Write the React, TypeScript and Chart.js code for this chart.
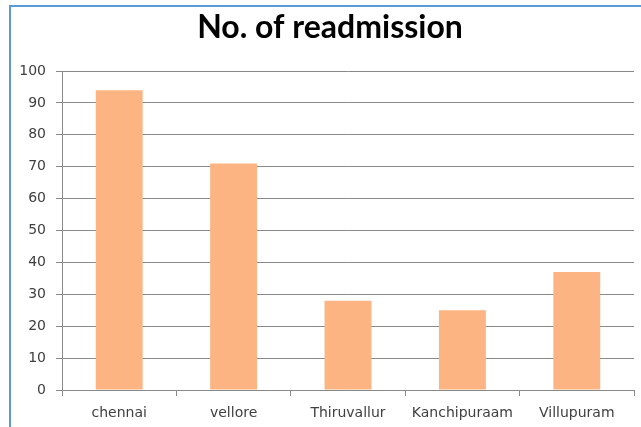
import React, { useEffect, useRef } from "react";
import { Chart, registerables } from "chart.js";

Chart.register(...registerables);

const titleText = "No. of readmission";
const categories = ["chennai", "vellore", "Thiruvallur", "Kanchipuraam", "Villupuram"];
const readmissions = [94, 71, 28, 25, 37];
const yMin = 0;
const yMax = 100;
const yStep = 10;

const framePlugin = {
  id: "frameAndTitle",
  beforeDraw(chart: any) {
    const ctx = chart.ctx;
    ctx.save();
    ctx.fillStyle = "#ffffff";
    ctx.fillRect(0, 0, chart.width, chart.height);
    ctx.strokeStyle = "#5B9BD5";
    ctx.lineWidth = 2;
    ctx.beginPath();
    ctx.moveTo(10, chart.height + 5);
    ctx.lineTo(10, 6);
    ctx.lineTo(chart.width + 5, 6);
    ctx.stroke();
    ctx.fillStyle = "#000000";
    ctx.font = "bold 32px Lato";
    ctx.textAlign = "center";
    ctx.textBaseline = "middle";
    ctx.fillText(titleText, 330, 28);
    ctx.restore();
  },
};

export default function App() {
  const ref = useRef<HTMLCanvasElement | null>(null);
  useEffect(() => {
    if (!ref.current) return;
    const chart = new Chart(ref.current, {
      type: "bar",
      data: {
        labels: categories,
        datasets: [
          {
            label: titleText,
            data: readmissions,
            backgroundColor: "#FCB482",
            borderWidth: 0,
            categoryPercentage: 1,
            barPercentage: 0.41,
          },
        ],
      },
      options: {
        animation: false,
        responsive: false,
        maintainAspectRatio: false,
        layout: { padding: { left: 0, right: 7, top: 71, bottom: 0 } },
        plugins: {
          legend: { display: false },
          tooltip: { enabled: false },
          title: { display: false },
        },
        scales: {
          x: {
            grid: {
              display: true,
              drawOnChartArea: false,
              drawTicks: true,
              tickLength: 6,
              color: "#898989",
              offset: true,
            },
            border: { display: true, color: "#898989", width: 1 },
            ticks: {
              color: "#404040",
              font: { family: "DejaVu Sans", size: 14 },
              padding: 9,
              maxRotation: 0,
              autoSkip: false,
            },
            afterFit(scale: any) {
              scale.height = 37;
            },
          },
          y: {
            min: yMin,
            max: yMax,
            grid: {
              color: "#898989",
              drawTicks: true,
              tickLength: 6,
            },
            border: { display: true, color: "#898989", width: 1 },
            ticks: {
              stepSize: yStep,
              color: "#404040",
              font: { family: "DejaVu Sans", size: 14 },
              padding: 10,
            },
            afterFit(scale: any) {
              scale.width = 62;
            },
          },
        },
      },
      plugins: [framePlugin],
    });
    return () => chart.destroy();
  }, []);
  return (
    <div style={{ position: "fixed", left: 0, top: 0, width: 641, height: 427, background: "#fff" }}>
      <canvas ref={ref} width={641} height={427} style={{ width: 641, height: 427, display: "block" }} />
    </div>
  );
}
